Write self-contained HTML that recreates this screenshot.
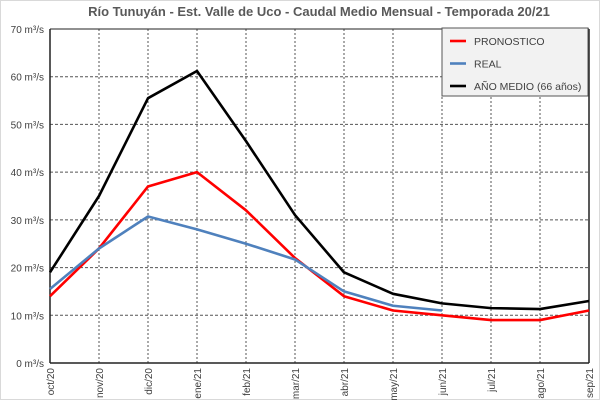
<!DOCTYPE html>
<html><head><meta charset="utf-8"><style>
html,body{margin:0;padding:0;background:#fff;}
svg{display:block;font-family:"Liberation Sans",sans-serif;}
</style></head><body>
<svg id="s" width="600" height="400" xmlns="http://www.w3.org/2000/svg">
<rect x="0.5" y="0.5" width="599" height="399" fill="#fff" stroke="#d9d9d9"/>
<text x="319" y="16" text-anchor="middle" font-size="13" font-weight="bold" fill="#595959">Río Tunuyán - Est. Valle de Uco - Caudal Medio Mensual - Temporada 20/21</text>
<g id="g"></g>
</svg>
<script>
const g=document.getElementById('g');
const X=i=>50+i*49, Y=v=>363-v*334/70;
let h='';
for(let v=0;v<=70;v+=10){const y=Y(v);
 if(v>0&&v<70)h+=`<line x1="50" x2="589" y1="${y}" y2="${y}" stroke="#555" stroke-dasharray="3,2" stroke-width="1"/>`;
 h+=`<text x="44" y="${y+4}" text-anchor="end" font-size="10" fill="#404040">${v} m³/s</text>`;}
const m=['oct/20','nov/20','dic/20','ene/21','feb/21','mar/21','abr/21','may/21','jun/21','jul/21','ago/21','sep/21'];
m.forEach((t,i)=>{const x=X(i);
 if(i>0&&i<11)h+=`<line x1="${x}" x2="${x}" y1="29" y2="363" stroke="#555" stroke-dasharray="2,2" stroke-width="1"/>`;
 h+=`<text transform="translate(${x+4},368) rotate(-90)" text-anchor="end" font-size="10" fill="#404040">${t}</text>`;});
h+=`<line x1="50" x2="589" y1="29" y2="29" stroke="#222"/><line x1="50" x2="50" y1="29" y2="363" stroke="#222" stroke-width="1.5"/><line x1="589" x2="589" y1="29" y2="363" stroke="#222" stroke-width="1.5"/><line x1="50" x2="589" y1="363" y2="363" stroke="#222" stroke-width="1.5"/>`;
const line=(d,c)=>`<polyline fill="none" stroke="${c}" stroke-width="2.6" stroke-linejoin="round" points="${d.map((v,i)=>X(i)+','+Y(v)).join(' ')}"/>`;
h+=line([19,35,55.5,61.2,46.5,31,19,14.5,12.5,11.5,11.3,13],'#000');
h+=line([14,24,37,40,32,22,14,11,10,9,9,11],'#f00');
h+=line([15.5,24,30.7,28,25,21.7,15,12,11],'#4f81bd');
h+=`<rect x="442" y="28" width="146" height="68" fill="#f2f2f2" stroke="#555" stroke-width="1"/>`;
[['PRONOSTICO','#f00'],['REAL','#4f81bd'],['AÑO MEDIO (66 años)','#000']].forEach((a,i)=>{const y=41+i*22.5;
 h+=`<line x1="450" x2="466" y1="${y}" y2="${y}" stroke="${a[1]}" stroke-width="2.6"/><text x="474" y="${y+4}" font-size="10.5" fill="#404040">${a[0]}</text>`;});
g.innerHTML=h;
</script>
</body></html>
